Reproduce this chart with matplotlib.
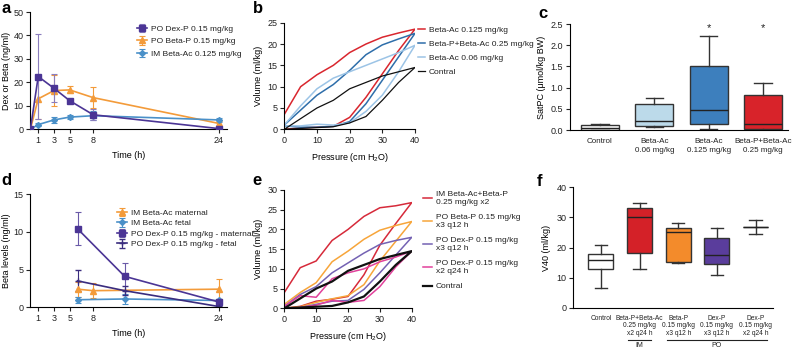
import numpy as np
import matplotlib
matplotlib.use("Agg")
from matplotlib import pyplot as plt
from matplotlib import transforms

plt.rcParams['font.family'] = ['Liberation Sans', 'DejaVu Sans']
plt.rcParams['mathtext.default'] = 'regular'
plt.rcParams['font.size'] = 6
plt.rcParams['axes.linewidth'] = 0.8
plt.rcParams['xtick.major.width'] = 0.8
plt.rcParams['ytick.major.width'] = 0.8
plt.rcParams['xtick.major.size'] = 3
plt.rcParams['ytick.major.size'] = 3
plt.rcParams['xtick.labelsize'] = 6.5
plt.rcParams['ytick.labelsize'] = 6.5
plt.rcParams['text.color'] = '#222222'
plt.rcParams['xtick.color'] = '#222222'
plt.rcParams['ytick.color'] = '#222222'

PURPLE = '#4b3595'
ORANGE = '#f39b3a'
BLUE = '#4a90c8'

# ---- panel a: pharmacokinetics
time_a = [0, 1, 3, 5, 8, 24]
dex_a = [0, 22.5, 17.5, 12.2, 6.2, 0.3]
dex_a_err = [0, 18, 6, 0.5, 2.3, 0.3]
betap_a = [0, 13, 16.5, 16.8, 13.5, 2.5]
betap_a_err = [0, 8.5, 6.5, 1.5, 4.5, 1.0]
betaac_a = [0, 2, 4, 5.2, 5.8, 4]
betaac_a_err = [0, 0.8, 1.2, 1.0, 2.0, 1.0]
time_ticks_a = [1, 3, 5, 8, 24]

# ---- panel d: maternal / fetal levels
time_mat = [6, 8, 24]
betaac_mat = [2.4, 2.2, 2.4]
betaac_mat_err = [1.0, 1.0, 1.3]
time_fet = [6, 12, 24]
betaac_fet = [1.0, 1.1, 0.9]
betaac_fet_err = [0.4, 0.6, 0.2]
dex_mat = [10.4, 4.1, 0.7]
dex_mat_err = [2.2, 1.8, 0.3]
dex_fet = [3.5, 2.2, 0.1]
dex_fet_err = [1.4, 0.6, 0.1]

# ---- panels b / e: pressure-volume loops
pressure = [0, 5, 10, 15, 20, 25, 30, 35, 40]
b_ac125_in = [0, 0.3, 0.5, 0.7, 2.8, 7.5, 13, 18.5, 23.5]
b_ac125_out = [3.5, 10, 12.8, 15, 18, 20, 21.6, 22.6, 23.5]
b_pac25_in = [0.8, 0.5, 0.5, 0.7, 1.8, 6, 11.5, 17, 22.5]
b_pac25_out = [1, 4.5, 8, 10.5, 13.8, 17.5, 19.8, 21.2, 22.5]
b_ac06_in = [0.8, 0.8, 1.2, 1.0, 1.5, 4.2, 8, 13.5, 19.7]
b_ac06_out = [1, 5.5, 9.5, 12, 13.5, 15, 16.5, 18, 19.7]
ctrl_in = [0, 0.2, 0.4, 0.6, 1.5, 3, 6.8, 11, 14.5]
ctrl_out = [0, 2.5, 5, 6.8, 9.5, 11, 12.5, 13.5, 14.5]

e_im_in = [0, 0.5, 1.8, 2.3, 3, 8.5, 16, 21.5, 26.8]
e_im_out = [4, 10.3, 12, 17.2, 20, 23.3, 25.5, 26, 26.8]
e_bp_in = [0, 0.4, 1.5, 2.4, 3.2, 6, 12, 17, 22]
e_bp_out = [1, 4, 6.5, 11.8, 14.5, 17.5, 19.8, 21, 22]
e_dx3_in = [0, 0.2, 1, 1.8, 2, 4.8, 9, 13.5, 18]
e_dx3_out = [0.5, 3.5, 5.5, 9, 11.5, 14, 16.2, 17.2, 18]
e_dx2_in = [0, 0.2, 0.8, 2, 1.5, 2, 5.5, 10.5, 14.5]
e_dx2_out = [0.5, 3.2, 2.8, 7.5, 9, 10, 11.8, 13, 14.5]

# ---- panel c: SatPC box stats (whislo, q1, med, q3, whishi)
c_labels = ['Control', 'Beta-Ac\n0.06 mg/kg', 'Beta-Ac\n0.125 mg/kg', 'Beta-P+Beta-Ac\n0.25 mg/kg']
c_stats = [[0.0, 0.01, 0.04, 0.12, 0.13],
           [0.08, 0.10, 0.22, 0.62, 0.75],
           [0.02, 0.15, 0.48, 1.50, 2.22],
           [0.0, 0.02, 0.15, 0.82, 1.12]]
c_colors = ['white', '#bcdaea', '#3d7fbd', '#d8232a']
c_star = [3, 4]

# ---- panel f: V40 box stats
f_labels = ['Control', 'Beta-P+Beta-Ac\n0.25 mg/kg\nx2 q24 h', 'Beta-P\n0.15 mg/kg\nx3 q12 h',
            'Dex-P\n0.15 mg/kg\nx3 q12 h', 'Dex-P\n0.15 mg/kg\nx2 q24 h']
f_stats = [[6.5, 12.8, 16.0, 17.7, 21.0],
           [13.0, 18.3, 30.3, 33.0, 34.7],
           [15.0, 15.2, 25.2, 26.5, 28.2],
           [11.0, 14.5, 17.4, 23.0, 26.5],
           [24.5, 26.8, 26.8, 26.8, 29.0]]
f_colors = ['white', '#d42128', '#f38b2b', '#5a3d9c', 'white']
f_groups = [('IM', 2, 2), ('PO', 3, 5)]

fig = plt.figure(figsize=(7.93, 3.49), dpi=100)


def style(ax):
    for s in ['top', 'right']:
        ax.spines[s].set_visible(False)
    ax.tick_params(direction='out', pad=2)


def legend(ax, x, y, ls, hl=1.2, hp=0.5):
    return ax.legend(loc='upper left', bbox_to_anchor=(x / 793, 1 - y / 349),
                     bbox_transform=fig.transFigure, frameon=False, fontsize=6,
                     borderpad=0, borderaxespad=0, labelspacing=ls,
                     handlelength=hl, handletextpad=hp)


# a
ax = fig.add_axes([0.0383, 0.6295, 0.2477, 0.3361])
style(ax)
kw = dict(capsize=2.5, elinewidth=0.8, capthick=0.8, lw=1.2, ms=4)
ax.errorbar(time_a, dex_a, yerr=dex_a_err, color=PURPLE, marker='s', ecolor='#8a7dbd',
            label='PO Dex-P 0.15 mg/kg', zorder=3, **kw)
ax.errorbar(time_a, betap_a, yerr=betap_a_err, color=ORANGE, marker='^',
            label='PO Beta-P 0.15 mg/kg', **kw)
ax.errorbar(time_a, betaac_a, yerr=betaac_a_err, color=BLUE, marker='D', ms=3,
            capsize=2.5, elinewidth=0.8, capthick=0.8, lw=1.2,
            label='IM Beta-Ac 0.125 mg/kg')
ax.set_xlim(0, 25)
ax.set_ylim(0, 50)
ax.set_xticks(time_ticks_a)
ax.set_yticks([0, 10, 20, 30, 40, 50])
ax.set_xlabel('Time (h)', fontsize=6.5)
ax.set_ylabel('Dex or Beta (ng/ml)', fontsize=6.5, labelpad=2)
legend(ax, 137, 25, 0.55)

# d
ax = fig.add_axes([0.0383, 0.1195, 0.2477, 0.3246])
style(ax)
ax.errorbar(time_mat, betaac_mat, yerr=betaac_mat_err, color=ORANGE, marker='^',
            label='IM Beta-Ac maternal', **kw)
ax.errorbar(time_fet, betaac_fet, yerr=betaac_fet_err, color=BLUE, marker='D', ms=3,
            capsize=2.5, elinewidth=0.8, capthick=0.8, lw=1.2, label='IM Beta-Ac fetal')
ax.errorbar(time_fet, dex_mat, yerr=dex_mat_err, color=PURPLE, marker='s', ecolor='#6a5aa8',
            label='PO Dex-P 0.15 mg/kg - maternal', **kw)
ax.errorbar(time_fet, dex_fet, yerr=dex_fet_err, color='#3a2c7e', marker='+', mew=1,
            capsize=2.5, elinewidth=0.8, capthick=0.8, lw=1.2, ms=4,
            label='PO Dex-P 0.15 mg/kg - fetal')
ax.set_xlim(0, 25)
ax.set_ylim(0, 15)
ax.set_xticks(time_ticks_a)
ax.set_yticks([0, 5, 10, 15])
ax.set_xlabel('Time (h)', fontsize=6.5)
ax.set_ylabel('Beta levels (ng/ml)', fontsize=6.5, labelpad=2)
legend(ax, 117, 209, 0.32)

# b
ax = fig.add_axes([0.3585, 0.6295, 0.1648, 0.3054])
style(ax)
loop_p = pressure + pressure[::-1]
for vin, vout, c, lab, lw in [(b_ac125_in, b_ac125_out, '#d9262e', 'Beta-Ac 0.125 mg/kg', 1.1),
                              (b_pac25_in, b_pac25_out, '#2e6eaa', 'Beta-P+Beta-Ac 0.25 mg/kg', 1.1),
                              (b_ac06_in, b_ac06_out, '#9cc4e6', 'Beta-Ac 0.06 mg/kg', 1.1),
                              (ctrl_in, ctrl_out, '#111111', 'Contral', 0.9)]:
    ax.plot(loop_p, vin + vout[::-1], color=c, lw=lw, label=lab)
ax.set_xlim(0, 40)
ax.set_ylim(0, 25)
ax.set_xticks([0, 10, 20, 30, 40])
ax.set_yticks([0, 5, 10, 15, 20, 25])
ax.set_xlabel('Pressure (cm H$_2$O)', fontsize=6.5)
ax.set_ylabel('Volume (ml/kg)', fontsize=6.5, labelpad=3)
legend(ax, 418, 26, 0.74, hl=0.85, hp=0.45)

# e
ax = fig.add_axes([0.3585, 0.1166, 0.1607, 0.339])
style(ax)
for vin, vout, c, lab, lw in [(e_im_in, e_im_out, '#d62a3a', 'IM Beta-Ac+Beta-P\n0.25 mg/kg x2', 1.1),
                              (e_bp_in, e_bp_out, '#f7a53a', 'PO Beta-P 0.15 mg/kg\nx3 q12 h', 1.1),
                              (e_dx3_in, e_dx3_out, '#7462b3', 'PO Dex-P 0.15 mg/kg\nx3 q12 h', 1.1),
                              (e_dx2_in, e_dx2_out, '#e1419b', 'PO Dex-P 0.15 mg/kg\nx2 q24 h', 1.1),
                              (ctrl_in, ctrl_out, '#111111', 'Contral', 1.6)]:
    ax.plot(loop_p, vin + vout[::-1], color=c, lw=lw, label=lab)
ax.set_xlim(0, 40)
ax.set_ylim(0, 30)
ax.set_xticks([0, 10, 20, 30, 40])
ax.set_yticks([0, 5, 10, 15, 20, 25, 30])
ax.set_xlabel('Pressure (cm H$_2$O)', fontsize=6.5)
ax.set_ylabel('Volume (ml/kg)', fontsize=6.5, labelpad=3)
legend(ax, 423, 191, 0.95, hl=1.1, hp=0.4)


def boxes(ax, stats, colors, width):
    bs = [dict(whislo=s[0], q1=s[1], med=s[2], q3=s[3], whishi=s[4], fliers=[]) for s in stats]
    art = ax.bxp(bs, positions=range(1, len(bs) + 1), widths=width, patch_artist=True,
                 showfliers=False,
                 boxprops=dict(lw=1.0, edgecolor='#333333'),
                 whiskerprops=dict(lw=1.0, color='#333333'),
                 capprops=dict(lw=1.0, color='#333333'),
                 medianprops=dict(lw=1.0, color='#222222'))
    for p, c in zip(art['boxes'], colors):
        p.set_facecolor(c)
    for cap in art['caps']:
        xd = cap.get_xdata()
        m = (xd[0] + xd[1]) / 2
        cap.set_xdata([m - 0.16, m + 0.16])
    return art


# c
ax = fig.add_axes([0.7188, 0.6275, 0.2749, 0.3037])
style(ax)
boxes(ax, c_stats, c_colors, 0.7)
for i in c_star:
    ax.text(i, 2.28, '*', ha='center', va='bottom', fontsize=8)
ax.set_xlim(0.45, 4.46)
ax.set_ylim(0, 2.5)
ax.set_yticks([0, 0.5, 1.0, 1.5, 2.0, 2.5])
ax.set_yticklabels(['0.0', '0.5', '1.0', '1.5', '2.0', '2.5'])
ax.set_xticks(range(1, 5))
ax.set_xticklabels(c_labels, fontsize=5.8, linespacing=1.3)
ax.tick_params(axis='x', length=0, pad=6)
ax.set_ylabel('SatPC (μmol/kg BW)', fontsize=6.5, labelpad=3)

# f
ax = fig.add_axes([0.723, 0.1183, 0.2518, 0.345])
style(ax)
boxes(ax, f_stats, f_colors, 0.65)
ax.set_xlim(0.29, 5.45)
ax.set_ylim(0, 40)
ax.set_yticks([0, 10, 20, 30, 40])
ax.set_xticks(range(1, 6))
ax.set_xticklabels(f_labels, fontsize=4.8, linespacing=1.15)
ax.tick_params(axis='x', length=0, pad=5)
ax.set_ylabel('V40 (ml/kg)', fontsize=6.5, labelpad=4)
trans = transforms.blended_transform_factory(ax.transData, ax.transAxes)
for name, a, b in f_groups:
    ax.plot([a - 0.3, b + 0.3], [-0.268, -0.268], color='#222222', lw=0.8,
            transform=trans, clip_on=False)
    ax.text((a + b) / 2, -0.312, name, transform=trans, ha='center', va='center', fontsize=5)

# panel letters
for lab, x, y in [('a', 1, 1), ('b', 253, 1), ('c', 538, 6),
                  ('d', 1, 173), ('e', 252, 173), ('f', 537, 174)]:
    fig.text(x / 793, 1 - y / 349, lab, fontsize=12, fontweight='bold',
             ha='left', va='top', color='black')

fig.savefig('out.png', dpi=100)
